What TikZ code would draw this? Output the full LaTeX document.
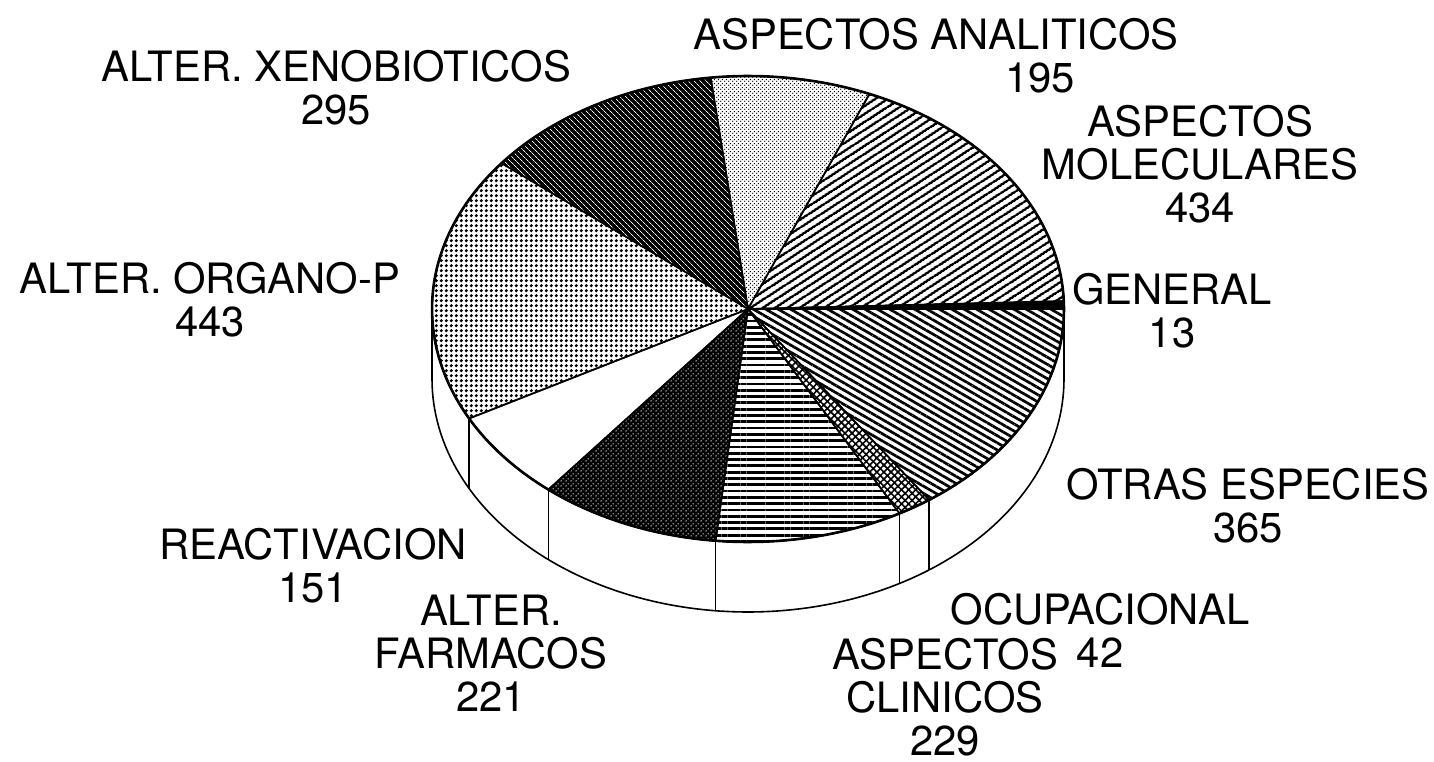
\documentclass[tikz,border=0pt]{standalone}
\usepackage{fontspec}
\setmainfont{TeX Gyre Heros}
\usetikzlibrary{patterns.meta}

\pgfdeclarepatternformonly{bigdots}{\pgfqpoint{0pt}{0pt}}{\pgfqpoint{5.3pt}{5.3pt}}{\pgfqpoint{5.3pt}{5.3pt}}%
  {\pgfpathcircle{\pgfqpoint{2.65pt}{2.65pt}}{1.95pt}\pgfusepath{fill}}
\pgfdeclarepatternformonly{finedots}{\pgfqpoint{0pt}{0pt}}{\pgfqpoint{4pt}{4pt}}{\pgfqpoint{4pt}{4pt}}%
  {\pgfpathcircle{\pgfqpoint{1pt}{1pt}}{0.85pt}\pgfpathcircle{\pgfqpoint{3pt}{3pt}}{0.85pt}\pgfusepath{fill}}
\pgfdeclarepatternformonly{holes}{\pgfqpoint{0pt}{0pt}}{\pgfqpoint{5pt}{5pt}}{\pgfqpoint{5pt}{5pt}}%
  {\pgfpathcircle{\pgfqpoint{1.25pt}{1.25pt}}{0.85pt}\pgfpathcircle{\pgfqpoint{3.75pt}{3.75pt}}{0.85pt}\pgfusepath{fill}}

\newcommand\wedgepath[2]{(748,309) -- plot[domain=#1:#2, samples=80] ({748+316*cos(\x)},{309-233*sin(\x)}) -- cycle}

\tikzset{
  lbl/.style={anchor=north, inner sep=0pt, align=center, font=\fontsize{41.8pt}{43pt}\selectfont},
  edge/.style={line width=1.6pt, line join=round},
}

\begin{document}
\begin{tikzpicture}[x=1pt, y=-1pt]
\useasboundingbox (0,0) rectangle (1434,762);

% side of the cylinder
\draw[edge, fill=white] (432,309) -- (432,379)
  -- plot[domain=180:360, samples=120] ({748+316*cos(\x)},{379-233*sin(\x)})
  -- (1064,309)
  -- plot[domain=360:180, samples=120] ({748+316*cos(\x)},{309-233*sin(\x)}) -- cycle;
\foreach \t in {208.040,230.804,264.121,298.643,304.975}
  \draw[edge] ({748+316*cos(\t)},{309-233*sin(\t)}) -- ++(0,70);

% GENERAL 13
\fill[black] \wedgepath{0}{1.960};
% ASPECTOS MOLECULARES 434
\fill[pattern={Lines[angle=33,distance=6.5pt,line width=2.8pt]}, pattern color=black] \wedgepath{1.960}{67.387};
% ASPECTOS ANALITICOS 195
\fill[pattern=finedots, pattern color=black] \wedgepath{67.387}{96.784};
% ALTER. XENOBIOTICOS 295
\fill[black] \wedgepath{96.784}{141.256};
\fill[pattern={Lines[angle=-45,distance=4pt,line width=0.7pt]}, pattern color=white] \wedgepath{96.784}{141.256};
% ALTER. ORGANO-P 443
\fill[pattern=bigdots, pattern color=black] \wedgepath{141.256}{208.040};
% REACTIVACION 151 : white
\fill[white] \wedgepath{208.040}{230.804};
% ALTER. FARMACOS 221
\fill[black] \wedgepath{230.804}{264.121};
\fill[pattern=holes, pattern color=white] \wedgepath{230.804}{264.121};
% ASPECTOS CLINICOS 229
\fill[pattern={Lines[angle=0,distance=6.3pt,line width=2.8pt]}, pattern color=black] \wedgepath{264.121}{298.643};
% OCUPACIONAL 42
\fill[pattern={Lines[angle=45,distance=5pt,line width=1.6pt]}, pattern color=black] \wedgepath{298.643}{304.975};
\fill[pattern={Lines[angle=-45,distance=5pt,line width=1.6pt]}, pattern color=black] \wedgepath{298.643}{304.975};
% OTRAS ESPECIES 365
\fill[pattern={Lines[angle=-30,distance=6.2pt,line width=2.7pt]}, pattern color=black] \wedgepath{304.975}{360};

% wedge outlines
\foreach \a/\b in {0/1.960,1.960/67.387,67.387/96.784,96.784/141.256,141.256/208.040,208.040/230.804,230.804/264.121,264.121/298.643,298.643/304.975,304.975/360}
  \draw[edge] \wedgepath{\a}{\b};
\draw[line width=2.6pt] plot[domain=0:360, samples=200] ({748+316*cos(\x)},{309-233*sin(\x)}) -- cycle;

% labels
\node[lbl] (xeno)    at (336,50)   {ALTER. XENOBIOTICOS\\295};
\node[lbl] (analitA) at (936,18)   {ASPECTOS ANALITICOS};
\node[lbl] (analitB) at (1040,63)  {195};
\node[lbl] (molec)   at (1200,105) {ASPECTOS\\MOLECULARES\\434};
\node[lbl] (general) at (1172,273) {GENERAL\\13};
\node[lbl] (otras)   at (1248,468) {OTRAS ESPECIES\\365};
\node[lbl] (ocup)    at (1100,593) {OCUPACIONAL\\42};
\node[lbl] (clin)    at (945,638)  {ASPECTOS\\CLINICOS\\229};
\node[lbl] (farm)    at (491,595)  {ALTER.\\FARMACOS\\221};
\node[lbl] (react)   at (313,528)  {REACTIVACION\\151};
\node[lbl] (organo)  at (210,262)  {ALTER. ORGANO-P\\443};
\end{tikzpicture}
\end{document}
